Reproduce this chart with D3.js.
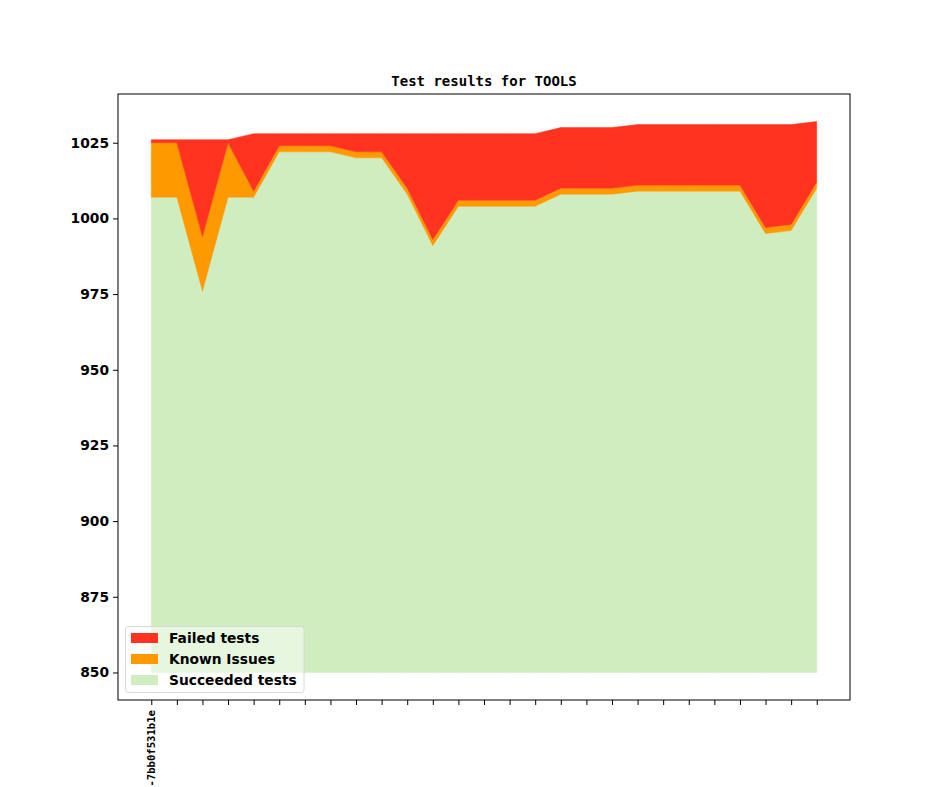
<!DOCTYPE html>
<html>
<head>
<meta charset="utf-8">
<script src="https://cdn.jsdelivr.net/npm/d3@7"></script>
<style>
  html, body { margin: 0; padding: 0; background: #fff; }
  svg { display: block; }
</style>
</head>
<body>
<svg id="chart" width="944" height="787"></svg>
<script>
// ---- data ----
const tickLabels = ["-7bb0f531b1e", "", "", "", "", "", "", "", "", "", "", "", "", "", "", "", "", "", "", "", "", "", "", "", "", "", ""];
const succeeded = [1007, 1007, 976, 1007, 1007, 1022, 1022, 1022, 1020, 1020, 1008, 991, 1004, 1004, 1004, 1004, 1008, 1008, 1008, 1009, 1009, 1009, 1009, 1009, 995, 996, 1010];
const knownIssues = [18, 18, 18, 18, 2, 2, 2, 2, 2, 2, 2, 2, 2, 2, 2, 2, 2, 2, 2, 2, 2, 2, 2, 2, 2, 2, 2];
const failed = [1, 1, 32, 1, 19, 4, 4, 4, 6, 6, 18, 35, 22, 22, 22, 22, 20, 20, 20, 20, 20, 20, 20, 20, 34, 33, 20];
const baseline = 850;
const seriesNames = ["Succeeded tests", "Known Issues", "Failed tests"];
const seriesColors = ["#cfedbf", "#ff9900", "#ff331f"];
const yTicks = [850, 875, 900, 925, 950, 975, 1000, 1025];
const title = "Test results for TOOLS";

// ---- layout ----
const svg = d3.select("#chart");
const L = 118, R = 850, T = 94, B = 700;
const n = succeeded.length;

const table = d3.range(n).map(i => ({
  i: i,
  "Succeeded tests": succeeded[i] - baseline,
  "Known Issues": knownIssues[i],
  "Failed tests": failed[i]
}));

const stack = d3.stack().keys(seriesNames)
  .offset((series, order) => {
    d3.stackOffsetNone(series, order);
    for (const s of series) for (const p of s) { p[0] += baseline; p[1] += baseline; }
  });
const stacked = stack(table);

const maxY = d3.max(stacked[stacked.length - 1], d => d[1]);
const minY = baseline;
const padY = (maxY - minY) * 0.05;
const padX = (n - 1) * 0.05;

const x = d3.scaleLinear().domain([-padX, n - 1 + padX]).range([L, R]);
const y = d3.scaleLinear().domain([minY - padY, maxY + padY]).range([B, T]);

const area = d3.area()
  .x(d => x(d.data.i))
  .y0(d => y(d[0]))
  .y1(d => y(d[1]));

svg.append("g").selectAll("path")
  .data(stacked)
  .join("path")
  .attr("d", area)
  .attr("fill", (d, k) => seriesColors[k])
  .attr("stroke", (d, k) => seriesColors[k])
  .attr("stroke-width", 0.5);

// axes
const yAxis = d3.axisLeft(y).tickValues(yTicks).tickSize(5).tickPadding(4).tickFormat(d3.format("d"));
const gy = svg.append("g").attr("transform", `translate(${L},0)`).call(yAxis);
gy.select(".domain").remove();
gy.selectAll("text")
  .attr("font-family", "DejaVu Sans")
  .attr("font-weight", "bold")
  .attr("font-size", 13.8)
  .attr("fill", "#000");
gy.selectAll("line").attr("stroke", "#000").attr("stroke-width", 1);

const xAxis = d3.axisBottom(x).tickValues(d3.range(n)).tickSize(5)
  .tickFormat(i => tickLabels[i]);
const gx = svg.append("g").attr("transform", `translate(0,${B})`).call(xAxis);
gx.select(".domain").remove();
gx.selectAll("line").attr("stroke", "#000").attr("stroke-width", 1);
gx.selectAll("text")
  .attr("font-family", "DejaVu Sans Mono")
  .attr("font-weight", "bold")
  .attr("font-size", 10.6)
  .attr("fill", "#000")
  .attr("text-anchor", "end")
  .attr("transform", "rotate(-90)")
  .attr("x", -10)
  .attr("y", 0)
  .attr("dy", "0.35em");

// frame
svg.append("rect")
  .attr("x", L).attr("y", T)
  .attr("width", R - L).attr("height", B - T)
  .attr("fill", "none").attr("stroke", "#000").attr("stroke-width", 1);

// title
svg.append("text")
  .attr("x", (L + R) / 2).attr("y", 86)
  .attr("text-anchor", "middle")
  .attr("font-family", "DejaVu Sans Mono")
  .attr("font-weight", "bold")
  .attr("font-size", 14)
  .attr("fill", "#000")
  .text(title);

// legend
const legendItems = [2, 1, 0];
const lg = svg.append("g");
lg.append("rect")
  .attr("x", 125.5).attr("y", 626.5)
  .attr("width", 178.5).attr("height", 66)
  .attr("rx", 3)
  .attr("fill", "#fff").attr("fill-opacity", 0.5)
  .attr("stroke", "#d8d8d8").attr("stroke-width", 1);
legendItems.forEach((k, j) => {
  const cy = 638 + j * 21;
  lg.append("rect")
    .attr("x", 131).attr("y", cy - 5)
    .attr("width", 27).attr("height", 10)
    .attr("fill", seriesColors[k]);
  lg.append("text")
    .attr("x", 169).attr("y", cy)
    .attr("dy", "0.35em")
    .attr("font-family", "DejaVu Sans")
    .attr("font-weight", "bold")
    .attr("font-size", 13.8)
    .attr("fill", "#000")
    .text(seriesNames[k]);
});
</script>
</body>
</html>
